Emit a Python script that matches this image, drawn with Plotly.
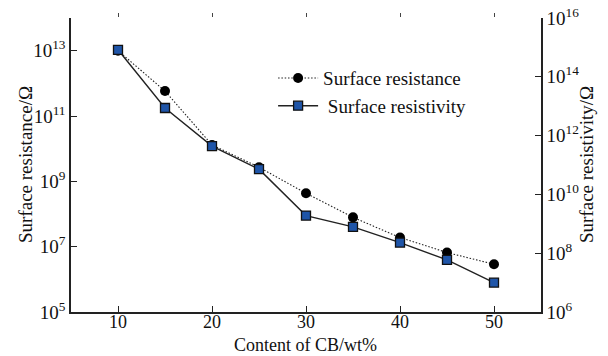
import plotly.graph_objects as go

content = [10, 15, 20, 25, 30, 35, 40, 45, 50]
resistance = [1.0e13, 5.8e11, 1.3e10, 2.7e9, 4.3e8, 7.9e7, 1.9e7, 6.6e6, 2.9e6]
resistivity = [8.3e14, 8.7e12, 4.4e11, 7.2e10, 1.9e9, 7.9e8, 2.3e8, 5.9e7, 1.0e7]

left_exps = [5, 7, 9, 11, 13]
right_exps = [6, 8, 10, 12, 14, 16]
x_ticks = [10, 20, 30, 40, 50]

FONT = "Liberation Serif, Times New Roman, serif"
W, H = 608, 356
L, R, T, B = 71, 67, 18, 44
PW, PH = W - L - R, H - T - B

fig = go.Figure()
fig.add_trace(go.Scatter(
    x=content, y=resistance, name="Surface resistance", yaxis="y",
    mode="lines+markers",
    line=dict(color="#222222", width=1.1, dash="1.5px,1.8px"),
    marker=dict(symbol="circle", size=10, color="black"),
))
fig.add_trace(go.Scatter(
    x=content, y=resistivity, name=" Surface resistivity", yaxis="y2",
    mode="lines+markers",
    line=dict(color="#222222", width=1.4),
    marker=dict(symbol="square", size=9, color="#1f55a8",
                line=dict(color="#111111", width=1.3)),
))
# invisible trace to draw top ticks
fig.add_trace(go.Scatter(x=[content[0]], y=[resistance[0]], xaxis="x2",
                         showlegend=False, hoverinfo="skip",
                         mode="markers", marker=dict(opacity=0)))

fig.update_layout(
    width=W, height=H,
    margin=dict(l=L, r=R, t=T, b=B, autoexpand=False),
    paper_bgcolor="white", plot_bgcolor="white",
    font=dict(family=FONT, size=19, color="#111111"),
    showlegend=True,
    legend=dict(x=0.43, y=0.86, xanchor="left", yanchor="top",
                bgcolor="rgba(0,0,0,0)", font=dict(size=19),
                tracegroupgap=0, itemwidth=40),
    xaxis=dict(range=[5, 55], tickvals=x_ticks, ticks="inside", ticklen=6,
               tickcolor="#222", showline=True, linecolor="#222", linewidth=1.5,
               showgrid=False, zeroline=False, automargin=False,
               ticklabelstandoff=-7, tickfont=dict(size=18)),
    xaxis2=dict(range=[5, 55], tickvals=x_ticks, ticks="outside", ticklen=4,
                tickcolor="#444", overlaying="x", side="top", showline=False,
                showticklabels=False, showgrid=False, zeroline=False,
                automargin=False),
    yaxis=dict(type="log", range=[5, 14],
               tickvals=[10 ** e for e in left_exps],
               ticktext=[f"10<sup>{e}</sup>" for e in left_exps],
               ticks="inside", ticklen=6, tickcolor="#222",
               showline=True, linecolor="#222", linewidth=1.5,
               showgrid=False, zeroline=False, automargin=False,
               tickfont=dict(size=19)),
    yaxis2=dict(type="log", range=[6, 16], overlaying="y", side="right",
                tickvals=[10 ** e for e in right_exps],
                ticktext=[f"10<sup>{e}</sup>" for e in right_exps],
                ticks="inside", ticklen=6, tickcolor="#222",
                showline=True, linecolor="#222", linewidth=1.5,
                showgrid=False, zeroline=False, automargin=False,
                tickfont=dict(size=19)),
)

fig.add_annotation(text="Content of CB/wt%", xref="paper", yref="paper",
                   x=(305 - L) / PW, y=-(345 - (H - B)) / PH,
                   xanchor="center", yanchor="middle", showarrow=False,
                   font=dict(size=18))
fig.add_annotation(text="Surface resistance/Ω", xref="paper", yref="paper",
                   x=(25 - L) / PW, y=(H - B - 165) / PH, textangle=-90,
                   xanchor="center", yanchor="middle", showarrow=False,
                   font=dict(size=19))
fig.add_annotation(text="Surface resistivity/Ω", xref="paper", yref="paper",
                   x=(586 - L) / PW, y=(H - B - 165) / PH, textangle=-90,
                   xanchor="center", yanchor="middle", showarrow=False,
                   font=dict(size=19))

fig.write_html("out.html")
